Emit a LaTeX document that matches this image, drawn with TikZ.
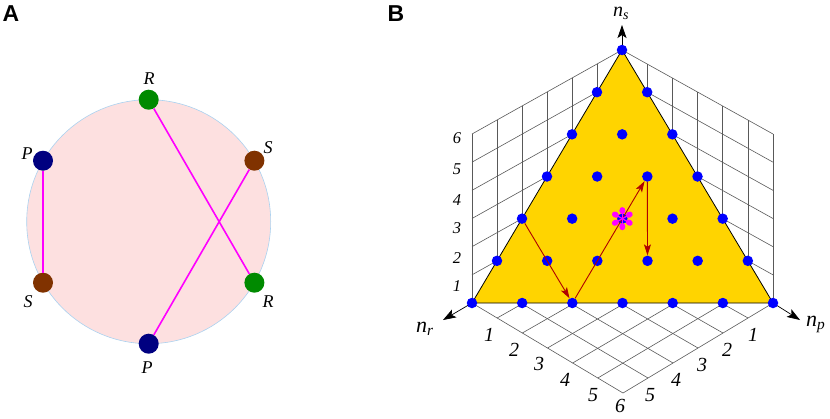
\documentclass[tikz,border=0pt]{standalone}
\usepackage{fontspec}
\setmainfont{Liberation Serif}
\newfontfamily\headfont{Liberation Sans}
\usetikzlibrary{arrows.meta,calc}
\definecolor{gold}{RGB}{255,212,0}
\definecolor{pinkfill}{RGB}{253,224,224}
\definecolor{circedge}{RGB}{170,210,240}
\definecolor{rgreen}{RGB}{0,138,0}
\definecolor{pnavy}{RGB}{0,0,128}
\definecolor{sbrown}{RGB}{128,50,0}
\definecolor{arrred}{RGB}{175,0,0}
\definecolor{mag}{RGB}{255,0,255}
\definecolor{pureblue}{RGB}{0,0,255}
\begin{document}
\begin{tikzpicture}[x=1pt,y=-1pt,
  dot/.style={circle,fill=pureblue,inner sep=0pt,minimum size=10.5pt},
  bigdot/.style={circle,inner sep=0pt,minimum size=20pt},
  lbl/.style={font=\fontsize{18}{18}\selectfont\itshape,inner sep=0pt},
  tick/.style={font=\fontsize{16.5}{16.5}\selectfont\itshape,inner sep=0pt},
  ftick/.style={font=\fontsize{20}{20}\selectfont\itshape,inner sep=0pt},
  axlbl/.style={font=\fontsize{22}{22}\selectfont\itshape,inner sep=0pt,anchor=base west},
  grid3/.style={draw=black!65,line width=0.6pt},
  chord/.style={draw=mag,line width=1.6pt},
  redarrow/.style={draw=arrred,line width=0.9pt,-{Stealth[length=11pt,width=7pt,inset=2.5pt]}},
  axisarrow/.style={draw=black,line width=0.7pt,-{Stealth[length=13pt,width=9pt,inset=3pt]}},
  panel/.style={font=\headfont\bfseries\fontsize{23}{23}\selectfont,inner sep=0pt,anchor=base west}]
\useasboundingbox (0,0) rectangle (830,418);

% ---------------- Panel A ----------------
\node[panel] (labA) at (2.5,21) {A};
\node[circle,draw=circedge,fill=pinkfill,minimum size=244pt,inner sep=0pt,line width=0.6pt] (ring) at (148.7,221.7) {};
\node[bigdot,fill=rgreen] (R1) at (148.7,99.7) {};
\node[bigdot,fill=pnavy]  (P1) at (43,160.7) {};
\node[bigdot,fill=sbrown] (S1) at (43,282.7) {};
\node[bigdot,fill=pnavy]  (P2) at (148.7,343.7) {};
\node[bigdot,fill=rgreen] (R2) at (254.4,282.7) {};
\node[bigdot,fill=sbrown] (S2) at (254.4,160.7) {};
\draw[chord] (P1) -- (S1);
\draw[chord] (R1) -- (R2);
\draw[chord] (S2) -- (P2);
\node[lbl] (tR1) at (149,79) {R};
\node[lbl] (tP1) at (27,154) {P};
\node[lbl] (tS1) at (28,302) {S};
\node[lbl] (tP2) at (147,368) {P};
\node[lbl] (tR2) at (268,302) {R};
\node[lbl] (tS2) at (268,148) {S};

% ---------------- Panel B ----------------
\node[panel] (labB) at (387.5,21) {B};
\coordinate (O) at (622,219);
\coordinate (A) at (472,303);
\coordinate (B) at (773,303);
\coordinate (C) at (622,50);
\coordinate (Atop) at (472,134);
\coordinate (Btop) at (773,134);
\coordinate (D) at (623,393);
\coordinate (rtip) at (443,320);
\coordinate (ptip) at (800,320);
\coordinate (stip) at (622,25);

\foreach \k in {0,...,6} {
  \draw[grid3] ($(O)!\k/6!(A)$) -- ($(C)!\k/6!(Atop)$);
  \draw[grid3] ($(A)!\k/6!(Atop)$) -- ($(O)!\k/6!(C)$);
  \draw[grid3] ($(O)!\k/6!(B)$) -- ($(C)!\k/6!(Btop)$);
  \draw[grid3] ($(B)!\k/6!(Btop)$) -- ($(O)!\k/6!(C)$);
  \draw[grid3] ($(O)!\k/6!(A)$) -- ($(B)!\k/6!(D)$);
  \draw[grid3] ($(O)!\k/6!(B)$) -- ($(A)!\k/6!(D)$);
}

\draw[axisarrow] (A) -- (rtip);
\draw[axisarrow] (B) -- (ptip);
\draw[axisarrow] (C) -- (stip);

\fill[gold,draw=black,line width=0.8pt] (A) -- (B) -- (C) -- cycle;

\foreach \ns in {0,...,6} {
  \pgfmathtruncatemacro\mm{6-\ns}
  \foreach \np in {0,...,\mm} {
    \pgfmathtruncatemacro\nr{6-\ns-\np}
    \node[dot] (d-\nr-\np-\ns) at ({(\nr*472+\np*773+\ns*622)/6},{(\nr*303+\np*303+\ns*50)/6}) {};
  }
}

\draw[redarrow] (d-4-0-2) -- (d-4-2-0);
\draw[redarrow] (d-4-2-0) -- (d-1-2-3);
\draw[redarrow] (d-1-2-3) -- (d-2-3-1);

\begin{scope}[shift={(d-2-2-2.center)}]
  \foreach \a in {90,30,-30} \draw[mag,line width=1.2pt] (\a:8) -- (\a+180:8);
  \foreach \a in {90,30,-30,-90,150,210} \fill[mag,rotate=\a] (8,0) ellipse (3.6 and 3);
\end{scope}

% tick labels
\foreach \k/\yy in {1/286,2/258,3/228,4/200,5/169,6/138}
  \node[tick] (wl\k) at (457,\yy) {\k};
\foreach \k/\xx/\yy in {1/489/335,2/514/350,3/539/364,4/565/380,5/593/395,6/620/406}
  \node[ftick] (fl\k) at (\xx,\yy) {\k};
\foreach \k/\xx/\yy in {1/753/335,2/727/350,3/702/365,4/676/380,5/650/395}
  \node[ftick] (fr\k) at (\xx,\yy) {\k};

\node[axlbl,font=\fontsize{20}{20}\selectfont\itshape] (lns) at (613,16) {n\textsubscript{s}};
\node[axlbl] (lnr) at (416,332) {n\textsubscript{r}};
\node[axlbl] (lnp) at (806,326) {n\textsubscript{p}};
\end{tikzpicture}
\end{document}
